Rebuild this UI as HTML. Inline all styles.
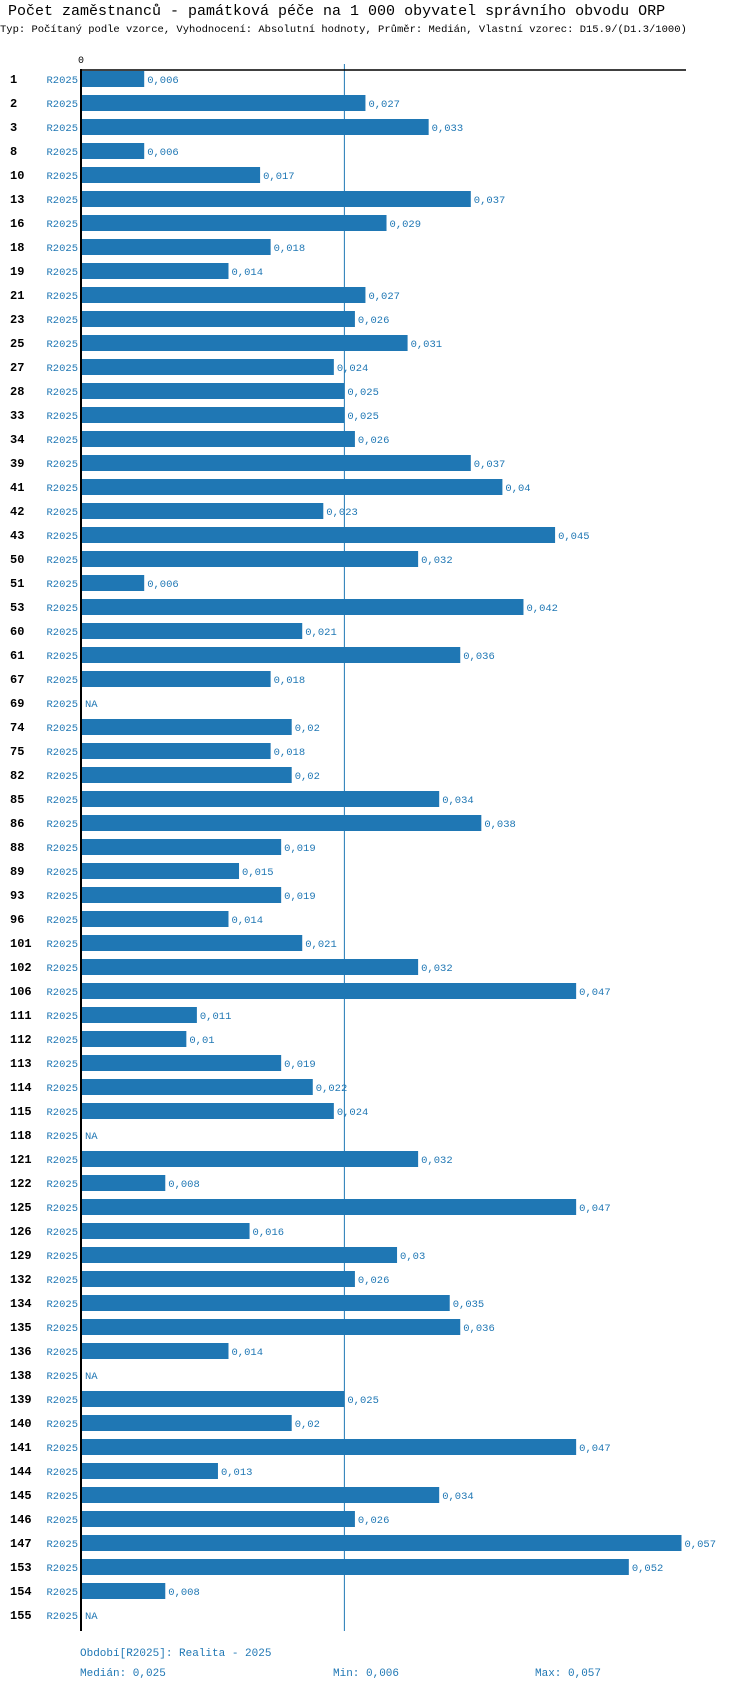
<!DOCTYPE html>
<html><head><meta charset="utf-8"><style>
body{margin:0;background:#fff;width:750px;height:1690px;overflow:hidden}
svg{display:block}
text{font-family:"Liberation Mono",monospace}
</style></head><body>
<svg id="chart" width="750" height="1690" xmlns="http://www.w3.org/2000/svg">
<text x="8" y="15" font-size="15" fill="#000">Počet zaměstnanců - památková péče na 1 000 obyvatel správního obvodu ORP</text>
<text x="0" y="32" font-size="10.5" fill="#000">Typ: Počítaný podle vzorce, Vyhodnocení: Absolutní hodnoty, Průměr: Medián, Vlastní vzorec: D15.9/(D1.3/1000)</text>
<g id="plot"></g>
<text x="80" y="1656" font-size="11" fill="#1f77b4">Období[R2025]: Realita - 2025</text>
<text x="80" y="1676" font-size="11" fill="#1f77b4">Medián: 0,025</text>
<text x="333" y="1676" font-size="11" fill="#1f77b4">Min: 0,006</text>
<text x="535" y="1676" font-size="11" fill="#1f77b4">Max: 0,057</text>
</svg>
<script>
const categories=["1","2","3","8","10","13","16","18","19","21","23","25","27","28","33","34","39","41","42","43","50","51","53","60","61","67","69","74","75","82","85","86","88","89","93","96","101","102","106","111","112","113","114","115","118","121","122","125","126","129","132","134","135","136","138","139","140","141","144","145","146","147","153","154","155"];
const values=[0.006,0.027,0.033,0.006,0.017,0.037,0.029,0.018,0.014,0.027,0.026,0.031,0.024,0.025,0.025,0.026,0.037,0.040,0.023,0.045,0.032,0.006,0.042,0.021,0.036,0.018,null,0.020,0.018,0.020,0.034,0.038,0.019,0.015,0.019,0.014,0.021,0.032,0.047,0.011,0.010,0.019,0.022,0.024,null,0.032,0.008,0.047,0.016,0.030,0.026,0.035,0.036,0.014,null,0.025,0.020,0.047,0.013,0.034,0.026,0.057,0.052,0.008,null];
const valueLabels=["0,006","0,027","0,033","0,006","0,017","0,037","0,029","0,018","0,014","0,027","0,026","0,031","0,024","0,025","0,025","0,026","0,037","0,04","0,023","0,045","0,032","0,006","0,042","0,021","0,036","0,018","NA","0,02","0,018","0,02","0,034","0,038","0,019","0,015","0,019","0,014","0,021","0,032","0,047","0,011","0,01","0,019","0,022","0,024","NA","0,032","0,008","0,047","0,016","0,03","0,026","0,035","0,036","0,014","NA","0,025","0,02","0,047","0,013","0,034","0,026","0,057","0,052","0,008","NA"];
const median=0.025;
const NS="http://www.w3.org/2000/svg";
const x0=81, pxPerUnit=(681.5-81)/0.057;
const xs=v=>x0+v*pxPerUnit;
const ys=i=>79+i*24;
const g=document.getElementById('plot');
function mk(t,a,txt){const e=document.createElementNS(NS,t);for(const k in a)e.setAttribute(k,a[k]);if(txt!=null)e.textContent=txt;g.appendChild(e);return e;}
const ml=mk('line',{x1:xs(median),x2:xs(median),y1:64,y2:1631,stroke:'#1f77b4','stroke-width':1});


categories.forEach((c,i)=>{
 const y=ys(i);
 const cl=mk('text',{x:10,y:y+4,'font-size':12,'font-weight':'bold',fill:'#000'},c);
 
 
 const pl=mk('text',{x:78,y:y+4,'font-size':10.5,fill:'#1f77b4','text-anchor':'end'},'R2025');
 
 
 const v=values[i];
 let end=x0+1;
 if(v!=null){
  const b=mk('rect',{x:x0,y:y-8,width:xs(v)-x0,height:16,fill:'#1f77b4'});
  
  
  end=xs(v);
 }
 const vl=mk('text',{x:end+3,y:y+4,'font-size':10.5,fill:'#1f77b4'},valueLabels[i]);
 
 
});
const ax=mk('line',{x1:x0,x2:x0,y1:69,y2:1631,stroke:'#000','stroke-width':2});


const tx=mk('line',{x1:x0,x2:686,y1:70,y2:70,stroke:'#000','stroke-width':1.5});


const z=mk('text',{x:x0-3,y:63,'font-size':10,fill:'#000'},'0');


</script>
</body></html>
